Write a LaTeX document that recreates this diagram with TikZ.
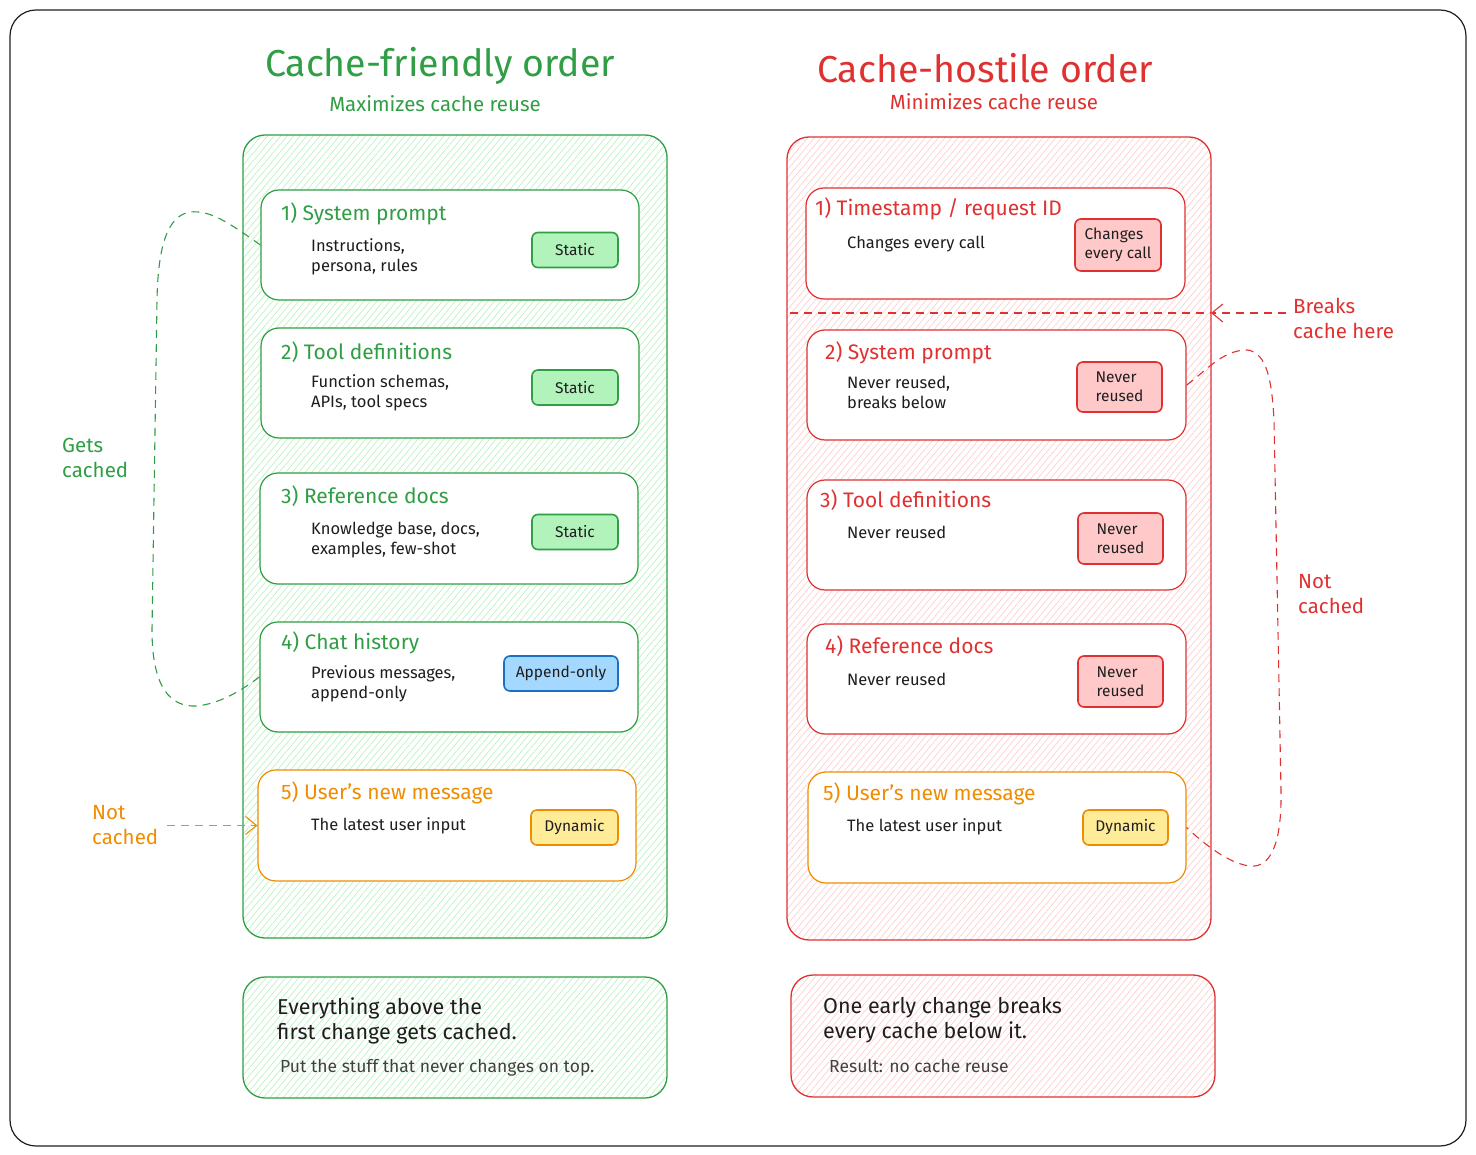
\documentclass[tikz,border=0pt]{standalone}
\usepackage{fontspec}
\setmainfont{Fira Sans}
\usetikzlibrary{patterns.meta,fit,arrows.meta}
\definecolor{cgreen}{HTML}{2F9E44}
\definecolor{cgreenl}{HTML}{B2F2BB}
\definecolor{cred}{HTML}{E03131}
\definecolor{credl}{HTML}{FFC9C9}
\definecolor{corange}{HTML}{F08C00}
\definecolor{cyell}{HTML}{FFEC99}
\definecolor{cblue}{HTML}{1971C2}
\definecolor{cbluel}{HTML}{A5D8FF}
\definecolor{cink}{HTML}{1E1E1E}
\begin{document}
\begin{tikzpicture}[x=1pt,y=-1pt,
  panel/.style={draw=#1, line width=1.3pt, rounded corners=22pt, inner sep=0pt},
  hatchG/.style={pattern={Lines[angle=50,distance=5pt,line width=0.6pt]}, pattern color=cgreenl},
  hatchR/.style={pattern={Lines[angle=50,distance=5pt,line width=0.6pt]}, pattern color=credl},
  card/.style={draw=#1, fill=white, line width=1.2pt, rounded corners=18pt, inner sep=0pt},
  ttl/.style={font=\fontsize{21}{25}\selectfont, anchor=west, inner sep=0pt, text=#1},
  dsc/.style={font=\fontsize{16.5}{20}\selectfont, anchor=west, inner sep=0pt, align=left, text=cink},
  badge/.style={font=\fontsize{15.5}{19}\selectfont, text=cink, line width=1.6pt, rounded corners=6pt, inner sep=3pt, align=left, minimum height=35pt},
  bG/.style={badge, fill=cgreenl, draw=cgreen},
  bR/.style={badge, fill=credl, draw=cred},
  bB/.style={badge, fill=cbluel, draw=cblue},
  bY/.style={badge, fill=cyell, draw=corange},
  note/.style={font=\fontsize{21.5}{25}\selectfont, anchor=west, inner sep=0pt, align=left, text=#1},
  side/.style={font=\fontsize{20.5}{25}\selectfont, anchor=west, inner sep=0pt, align=left, text=#1},
  dline/.style={draw=#1, line width=1.1pt, dash pattern=on 8pt off 6pt},
  barb/.style={-{Straight Barb[length=11pt,width=18pt,line width=1.1pt]}}
]
\useasboundingbox (0,0) rectangle (1476,1155);
\node[draw=cink, line width=1.2pt, rounded corners=26pt, inner sep=0pt, fit={(10,10) (1466,1146)}] (frame) {};

% titles
\node[font=\fontsize{37.5}{42}\selectfont, text=cgreen] (tL) at (440,66) {Cache-friendly order};
\node[font=\fontsize{20.5}{24}\selectfont, text=cgreen] (sL) at (435,104) {Maximizes cache reuse};
\node[font=\fontsize{37.5}{42}\selectfont, text=cred] (tR) at (985,68) {Cache-hostile order};
\node[font=\fontsize{20.5}{24}\selectfont, text=cred] (sR) at (994,102) {Minimizes cache reuse};

% panels
\node[panel=cgreen, hatchG, fit={(243,135) (667,938)}] (PL) {};
\node[panel=cred, hatchR, fit={(787,137) (1211,940)}] (PR) {};

% ---------- left cards
\node[card=cgreen, fit={(261,190) (639,300)}] (L1) {};
\node[ttl=cgreen] (L1t) at (281,214) {1) System prompt};
\node[dsc] (L1d) at (311,257) {Instructions,\\persona, rules};
\node[bG, minimum width=86pt] (L1b) at (575,250) {Static};

\node[card=cgreen, fit={(261,328) (639,438)}] (L2) {};
\node[ttl=cgreen] (L2t) at (281,352) {2) Tool definitions};
\node[dsc] (L2d) at (311,393) {Function schemas,\\APIs, tool specs};
\node[bG, minimum width=86pt] (L2b) at (575,387.5) {Static};

\node[card=cgreen, fit={(260,473) (638,584)}] (L3) {};
\node[ttl=cgreen] (L3t) at (281,496) {3) Reference docs};
\node[dsc] (L3d) at (311,540) {Knowledge base, docs,\\examples, few-shot};
\node[bG, minimum width=86pt] (L3b) at (575,532) {Static};

\node[card=cgreen, fit={(260,622) (638,732)}] (L4) {};
\node[ttl=cgreen] (L4t) at (281,643) {4) Chat history};
\node[dsc] (L4d) at (311,684) {Previous messages,\\append-only};
\node[bB, minimum width=114pt] (L4b) at (561,673.5) {Append-only};

\node[card=corange, fit={(258,770) (636,881)}] (L5) {};
\node[ttl=corange] (L5t) at (281,793) {5) User's new message};
\node[dsc] (L5d) at (311,826) {The latest user input};
\node[bY, minimum width=87pt] (L5b) at (574.5,827.5) {Dynamic};

% ---------- right cards
\node[card=cred, fit={(806,188) (1185,299)}] (R1) {};
\node[ttl=cred] (R1t) at (815,209) {1) Timestamp / request ID};
\node[dsc] (R1d) at (847,244) {Changes every call};
\node[bR, minimum width=86pt, minimum height=52pt] (R1b) at (1118,245) {Changes\\every call};

\node[card=cred, fit={(807,330) (1186,440)}] (R2) {};
\node[ttl=cred] (R2t) at (825,353) {2) System prompt};
\node[dsc] (R2d) at (847,392) {Never reused,\\breaks below};
\node[bR, minimum width=85pt, minimum height=50pt] (R2b) at (1119.5,387) {Never\\reused};

\node[card=cred, fit={(807,480) (1186,590)}] (R3) {};
\node[ttl=cred] (R3t) at (820,500) {3) Tool definitions};
\node[dsc] (R3d) at (847,532) {Never reused};
\node[bR, minimum width=85pt, minimum height=51pt] (R3b) at (1120.5,538.5) {Never\\reused};

\node[card=cred, fit={(807,624) (1186,734)}] (R4) {};
\node[ttl=cred] (R4t) at (825,646) {4) Reference docs};
\node[dsc] (R4d) at (847,679) {Never reused};
\node[bR, minimum width=85pt, minimum height=51pt] (R4b) at (1120.5,681.5) {Never\\reused};

\node[card=corange, fit={(808,772) (1186,883)}] (R5) {};
\node[ttl=corange] (R5t) at (823,794) {5) User's new message};
\node[dsc] (R5d) at (847,827) {The latest user input};
\node[bY, minimum width=85pt] (R5b) at (1125.5,827.5) {Dynamic};

% ---------- side annotations left
\node[side=cgreen] (gc) at (62,458) {Gets\\cached};
\draw[dline=cgreen] (L1.west) .. controls (228,222) and (210,210) .. (190,212)
   .. controls (166,216) and (158,250) .. (157,300) -- (152,630)
   .. controls (152,690) and (172,707) .. (196,706)
   .. controls (220,704) and (242,690) .. (L4.west);
\node[side=corange] (ncL) at (92,825) {Not\\cached};
\draw[dline=corange, barb, shorten <=9pt] (ncL.east |- L5.west) -- (L5.west);

% ---------- side annotations right
\coordinate (brkL) at (790,313);
\coordinate (brk) at (1211,313);
\draw[dline=cred] (brkL) -- (brk);
\node[side=cred] (bh) at (1293,318) {Breaks\\cache here};
\draw[dline=cred, barb, shorten <=7pt] (bh.west |- brk) -- (brk);
\node[side=cred] (ncR) at (1298,594) {Not\\cached};
\draw[dline=cred] (R2.east) .. controls (1205,372) and (1222,350) .. (1247,350)
   .. controls (1268,352) and (1272,385) .. (1274,420) -- (1281,790)
   .. controls (1282,845) and (1270,868) .. (1250,866)
   .. controls (1230,864) and (1205,845) .. (R5.east);

% ---------- bottom notes
\node[panel=cgreen, hatchG, fit={(243,977) (667,1098)}] (BL) {};
\node[note=cink] (BLt) at (277,1021) {Everything above the\\first change gets cached.};
\node[font=\fontsize{17.5}{21}\selectfont, text=cink!85, anchor=west, inner sep=0pt] (BLs) at (280,1068) {Put the stuff that never changes on top.};

\node[panel=cred, hatchR, fit={(791,975) (1215,1097)}] (BR) {};
\node[note=cink] (BRt) at (823,1020) {One early change breaks\\every cache below it.};
\node[font=\fontsize{17.5}{21}\selectfont, text=cink!85, anchor=west, inner sep=0pt] (BRs) at (829,1066) {Result: no cache reuse};
\end{tikzpicture}
\end{document}
